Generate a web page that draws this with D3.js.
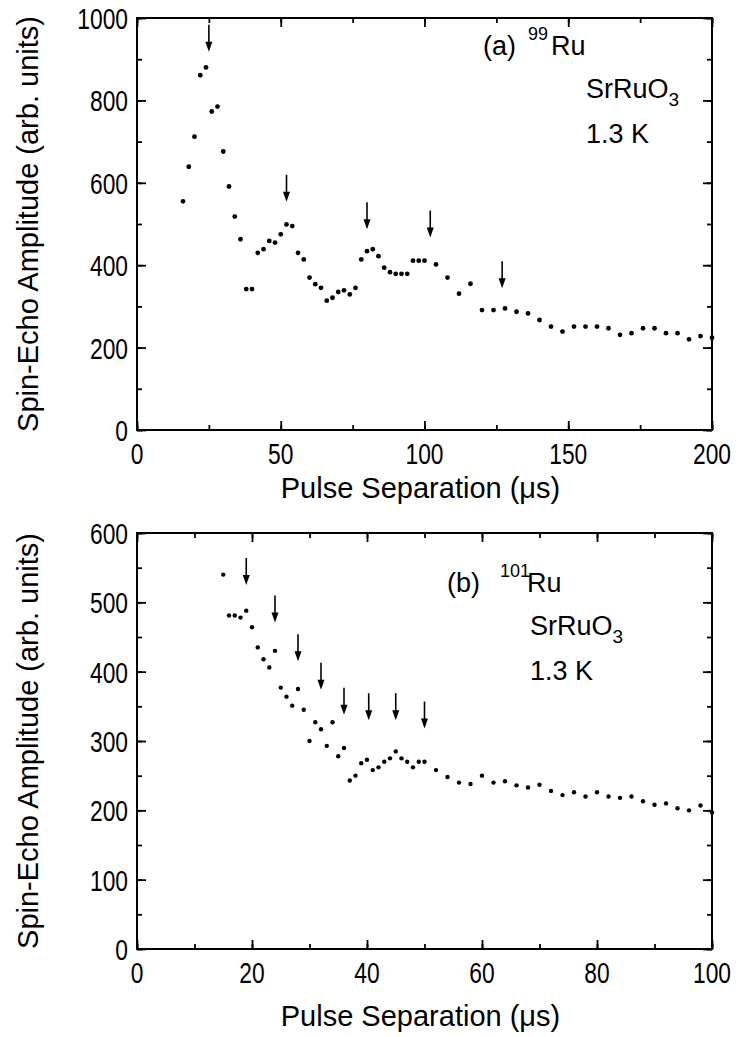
<!DOCTYPE html>
<html>
<head>
<meta charset="utf-8">
<script src="https://cdn.jsdelivr.net/npm/d3@7"></script>
<style>
  body { margin: 0; background: #fff; }
  svg { display: block; font-family: "Liberation Sans", Arial, sans-serif; }
  .tick-label { font-size: 30px; }
</style>
</head>
<body>
<svg id="chart" width="739" height="1037"></svg>
<script>
// panel (a): 99Ru
const aX = [16,18,20,22,24,26,28,30,32,34,36,38,40,42,44,46,48,50,52,54,56,58,60,62,64,66,68,70,72,74,76,78,80,82,84,86,88,90,92,94,96,98,100,
  104,108,112,116,120,124,128,132,136,140,144,148,152,156,160,164,168,172,176,180,184,188,192,196,200];
const aY = [555,639,712,861,880,773,785,676,591,518,463,342,342,430,439,459,455,475,499,495,430,414,370,354,345,314,321,335,339,329,345,414,434,439,422,394,383,379,379,379,411,411,411,
  402,370,331,355,291,291,295,287,283,267,251,239,251,251,251,247,231,235,247,247,235,235,220,228,224];
const aArrowX = [25, 52, 80, 102, 127];
const aArrowTip = [918, 554, 487, 467, 344];
const aXTicks = [0, 50, 100, 150, 200];
const aYTicks = [0, 200, 400, 600, 800, 1000];

// panel (b): 101Ru
const bX = [15,16,17,18,19,20,21,22,23,24,25,26,27,28,29,30,31,32,33,34,35,36,37,38,39,40,41,42,43,44,45,46,47,48,49,50,
  52,54,56,58,60,62,64,66,68,70,72,74,76,78,80,82,84,86,88,90,92,94,96,98,100];
const bY = [540,481,481,478,488,464,435,418,406,430,377,364,351,375,345,300,327,317,293,327,278,290,243,250,268,273,258,262,270,275,285,275,270,262,270,270,
  258,248,240,238,250,240,242,236,233,237,228,222,226,220,226,220,218,220,213,208,210,203,200,207,197];
const bArrowX = [19, 24, 28, 32, 36, 40.3, 45, 50];
const bArrowTip = [525, 471, 415, 374, 338, 330, 330, 318];
const bXTicks = [0, 20, 40, 60, 80, 100];
const bYTicks = [0, 100, 200, 300, 400, 500, 600];

const svg = d3.select("#chart");

function panel(o) {
  const x = d3.scaleLinear().domain(o.xDomain).range([o.left, o.right]);
  const y = d3.scaleLinear().domain(o.yDomain).range([o.bottom, o.top]);
  const g = svg.append("g");

  // inward ticks on all four sides
  const xMinor = d3.range(o.xDomain[0], o.xDomain[1] + 1e-9, o.xMinor);
  const yMinor = d3.range(o.yDomain[0], o.yDomain[1] + 1e-9, o.yMinor);
  g.append("g").attr("transform", "translate(0," + o.bottom + ")")
    .call(d3.axisBottom(x).tickValues(xMinor).tickSize(-5).tickFormat(""));
  g.append("g").attr("transform", "translate(0," + o.top + ")")
    .call(d3.axisTop(x).tickValues(xMinor).tickSize(-5).tickFormat(""));
  g.append("g").attr("transform", "translate(" + o.left + ",0)")
    .call(d3.axisLeft(y).tickValues(yMinor).tickSize(-5).tickFormat(""));
  g.append("g").attr("transform", "translate(" + o.right + ",0)")
    .call(d3.axisRight(y).tickValues(yMinor).tickSize(-5).tickFormat(""));
  g.append("g").attr("transform", "translate(0," + o.bottom + ")")
    .call(d3.axisBottom(x).tickValues(o.xTicks).tickSize(-9).tickFormat(""));
  g.append("g").attr("transform", "translate(0," + o.top + ")")
    .call(d3.axisTop(x).tickValues(o.xTicks).tickSize(-9).tickFormat(""));
  g.append("g").attr("transform", "translate(" + o.left + ",0)")
    .call(d3.axisLeft(y).tickValues(o.yTicks).tickSize(-9).tickFormat(""));
  g.append("g").attr("transform", "translate(" + o.right + ",0)")
    .call(d3.axisRight(y).tickValues(o.yTicks).tickSize(-9).tickFormat(""));
  g.selectAll(".domain").remove();
  g.selectAll(".tick line").attr("stroke", "#000").attr("stroke-width", 1.8);

  g.append("rect")
    .attr("x", o.left).attr("y", o.top)
    .attr("width", o.right - o.left).attr("height", o.bottom - o.top)
    .attr("fill", "none").attr("stroke", "#000").attr("stroke-width", 2);

  // tick labels (condensed digits)
  g.selectAll(".xl").data(o.xTicks).enter().append("text")
    .attr("class", "tick-label")
    .attr("transform", d => "translate(" + x(d) + "," + (o.bottom + 34) + ") scale(0.76,1)")
    .attr("text-anchor", "middle").text(d => d);
  g.selectAll(".yl").data(o.yTicks).enter().append("text")
    .attr("class", "tick-label")
    .attr("transform", d => "translate(" + (o.left - 9) + "," + (y(d) + 11) + ") scale(0.76,1)")
    .attr("text-anchor", "end").text(d => d);

  // axis titles
  g.append("text")
    .attr("x", (o.left + o.right) / 2 - 4).attr("y", o.xTitleY)
    .attr("text-anchor", "middle").style("font-size", "29px")
    .text("Pulse Separation (\u03BCs)");
  g.append("text")
    .attr("transform", "translate(38," + ((o.top + o.bottom) / 2) + ") rotate(-90)")
    .attr("text-anchor", "middle").style("font-size", "29px")
    .text("Spin-Echo Amplitude (arb. units)");

  // data points
  g.selectAll(".dot").data(o.xs).enter().append("circle")
    .attr("cx", d => x(d)).attr("cy", (d, i) => y(o.ys[i]))
    .attr("r", o.r).attr("fill", "#000");

  // arrows marking echo peaks
  const arrows = g.selectAll(".arrow").data(o.arrowX).enter().append("g");
  arrows.append("line")
    .attr("x1", d => x(d)).attr("x2", d => x(d))
    .attr("y1", (d, i) => y(o.arrowTip[i]) - 27)
    .attr("y2", (d, i) => y(o.arrowTip[i]) - 6)
    .attr("stroke", "#000").attr("stroke-width", 1.6);
  arrows.append("path")
    .attr("d", (d, i) => {
      const px = x(d), py = y(o.arrowTip[i]);
      return "M" + (px - 3.5) + "," + (py - 10) + "L" + (px + 3.5) + "," + (py - 10) + "L" + px + "," + py + "Z";
    })
    .attr("fill", "#000");

  // annotation
  const t = g.append("g").style("font-size", "27px");
  t.append("text").attr("x", o.lab.x0).attr("y", o.lab.y0).text(o.lab.tag);
  t.append("text").attr("x", o.lab.x1).attr("y", o.lab.y0 - 15).style("font-size", "18px").text(o.lab.iso);
  t.append("text").attr("x", o.lab.x2).attr("y", o.lab.y0).text("Ru");
  const s = t.append("text").attr("x", o.lab.x3).attr("y", o.lab.y0 + 43).text("SrRuO");
  s.append("tspan").attr("dy", 8).style("font-size", "19px").text("3");
  t.append("text").attr("x", o.lab.x3).attr("y", o.lab.y0 + 88).text("1.3 K");
}

panel({
  left: 137, right: 712, top: 18, bottom: 430,
  xDomain: [0, 200], yDomain: [0, 1000], xMinor: 25, yMinor: 100,
  xTicks: aXTicks, yTicks: aYTicks, xTitleY: 498,
  xs: aX, ys: aY, r: 2.4, arrowX: aArrowX, arrowTip: aArrowTip,
  lab: { tag: "(a)", iso: "99", x0: 483, x1: 528, x2: 551, x3: 586, y0: 55 }
});

panel({
  left: 137, right: 712, top: 533, bottom: 949,
  xDomain: [0, 100], yDomain: [0, 600], xMinor: 10, yMinor: 50,
  xTicks: bXTicks, yTicks: bYTicks, xTitleY: 1026,
  xs: bX, ys: bY, r: 2.2, arrowX: bArrowX, arrowTip: bArrowTip,
  lab: { tag: "(b)", iso: "101", x0: 447, x1: 500, x2: 527, x3: 530, y0: 592 }
});
</script>
</body>
</html>
